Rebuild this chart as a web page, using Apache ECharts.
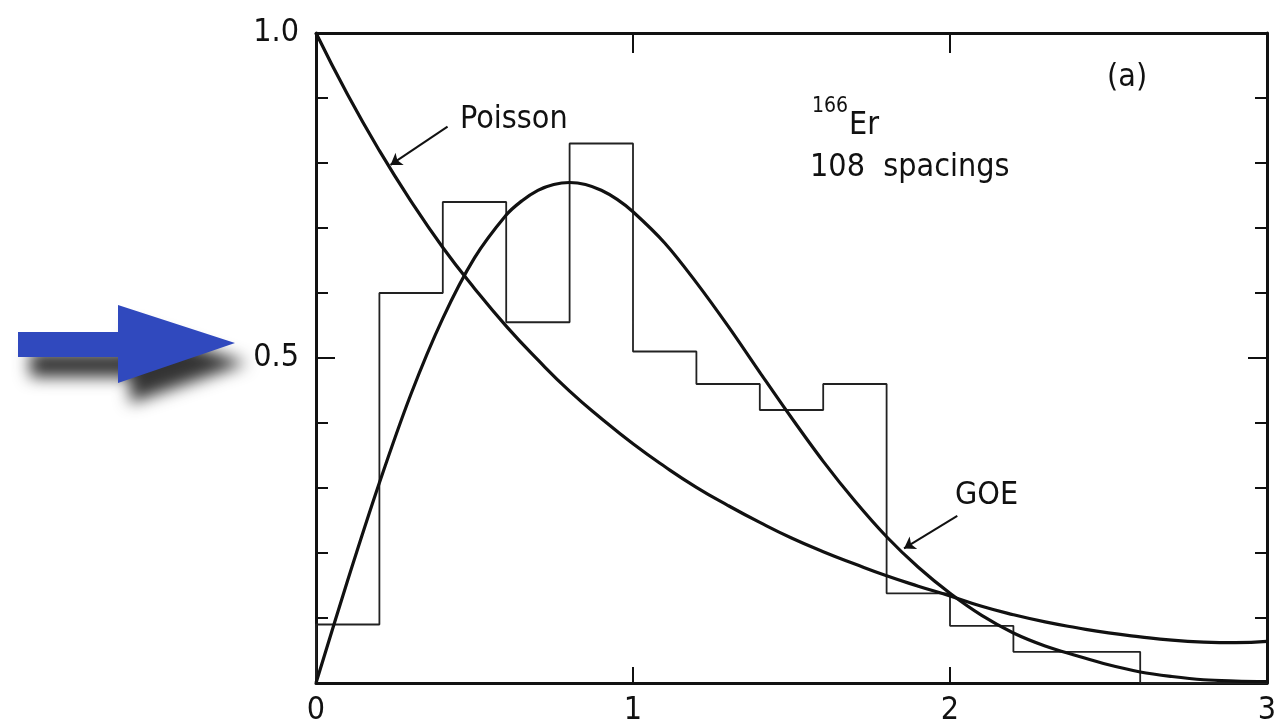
<!DOCTYPE html>
<html>
<head>
<meta charset="utf-8">
<script src="https://cdn.jsdelivr.net/npm/echarts@6/dist/echarts.min.js"></script>
<style>
  html, body { margin: 0; padding: 0; background: #fff; }
  #chart { width: 1284px; height: 726px; }
</style>
</head>
<body>
<div id="chart"></div>
<script>
// histogram: left bin edges (width 0.2) and densities
const binEdges = [0, 0.2, 0.4, 0.6, 0.8, 1.0, 1.2, 1.4, 1.6, 1.8, 2.0, 2.2, 2.4, 2.6, 2.8];
const binHeights = [0.09, 0.60, 0.74, 0.555, 0.83, 0.51, 0.46, 0.42, 0.46, 0.138, 0.088, 0.048, 0.048, 0, 0];

// Poisson curve, read point by point
const poissonS = [0, 0.1, 0.2, 0.3, 0.4, 0.5, 0.6, 0.7, 0.8, 0.9, 1.0, 1.1, 1.2, 1.3, 1.4, 1.5, 1.6, 1.7, 1.8, 1.9, 2.0, 2.1, 2.2, 2.3, 2.4, 2.5, 2.6, 2.7, 2.8, 2.9, 3.0];
const poissonP = [1.0, 0.905, 0.819, 0.741, 0.67, 0.607, 0.549, 0.497, 0.449, 0.407, 0.368, 0.333, 0.301, 0.273, 0.247, 0.223, 0.202, 0.183, 0.165, 0.149, 0.134, 0.118, 0.105, 0.094, 0.085, 0.077, 0.071, 0.066, 0.063, 0.062, 0.064];

// GOE curve, read point by point (denser around the peak)
const goeS = [0, 0.1, 0.2, 0.3, 0.4, 0.5, 0.6, 0.65, 0.7, 0.75, 0.8, 0.85, 0.9, 0.95, 1.0, 1.1, 1.2, 1.3, 1.4, 1.5, 1.6, 1.7, 1.8, 1.9, 2.0, 2.1, 2.2, 2.3, 2.4, 2.5, 2.6, 2.7, 2.8, 2.9, 3.0];
const goeP = [0, 0.158, 0.308, 0.445, 0.561, 0.654, 0.72, 0.742, 0.758, 0.767, 0.77, 0.767, 0.758, 0.744, 0.725, 0.677, 0.616, 0.549, 0.478, 0.408, 0.341, 0.28, 0.225, 0.178, 0.138, 0.104, 0.077, 0.057, 0.042, 0.028, 0.017, 0.01, 0.005, 0.003, 0.002];

const xTicks = ["0", "1", "2", "3"];

const FONT = "DejaVu Sans Condensed";
const INK = "#111";

const histData = [[0, 0]];
binEdges.forEach((e, i) => histData.push([e, binHeights[i]]));
histData.push([3, 0]);

const poissonData = poissonS.map((s, i) => [s, poissonP[i]]);
const goeData = goeS.map((s, i) => [s, goeP[i]]);

const chart = echarts.init(document.getElementById("chart"));

const yAxisBase = {
  type: "value",
  min: 0,
  max: 1,
  interval: 0.5,
  splitLine: { show: false },
  axisLine: { show: true, onZero: false, lineStyle: { color: INK, width: 3 } },
  axisTick: { show: true, inside: true, length: 19, lineStyle: { color: INK, width: 2 } },
  minorTick: { show: true, splitNumber: 5, length: 12, lineStyle: { color: INK, width: 2 } },
};

const option = {
  backgroundColor: "#fff",
  animation: false,
  grid: { left: 316, right: 17, top: 33, bottom: 43, outerBoundsMode: "none" },
  xAxis: [
    {
      type: "value",
      position: "bottom",
      min: 0,
      max: 3,
      interval: 1,
      splitLine: { show: false },
      axisLine: { onZero: false, lineStyle: { color: INK, width: 3 } },
      axisTick: { inside: true, length: 16, lineStyle: { color: INK, width: 2 } },
      axisLabel: {
        margin: 12,
        color: INK,
        fontSize: 32,
        fontFamily: FONT,
        formatter: (v) => xTicks[Math.round(v)],
      },
    },
    {
      type: "value",
      position: "top",
      min: 0,
      max: 3,
      interval: 1,
      splitLine: { show: false },
      axisLine: { show: true, onZero: false, lineStyle: { color: INK, width: 3 } },
      axisTick: { inside: true, length: 20, lineStyle: { color: INK, width: 2 } },
      axisLabel: { show: false },
    },
  ],
  yAxis: [
    Object.assign({}, yAxisBase, {
      position: "left",
      axisLabel: {
        margin: 17,
        color: INK,
        fontSize: 32,
        fontFamily: FONT,
        formatter: (v) => (v === 0 ? "" : v.toFixed(1)),
      },
    }),
    Object.assign({}, yAxisBase, {
      position: "right",
      axisLabel: { show: false },
    }),
  ],
  series: [
    {
      name: "histogram",
      type: "line",
      step: "end",
      data: histData,
      symbol: "none",
      lineStyle: { color: "#222", width: 1.8 },
      z: 2,
    },
    {
      name: "Poisson",
      type: "line",
      smooth: true,
      data: poissonData,
      symbol: "none",
      lineStyle: { color: INK, width: 3.2 },
      z: 3,
      markLine: {
        silent: true,
        symbol: ["none", "arrow"],
        symbolSize: 11,
        label: { show: false },
        lineStyle: { color: INK, width: 2, type: "solid" },
        data: [[{ coord: [0.415, 0.856] }, { coord: [0.235, 0.797] }]],
      },
    },
    {
      name: "GOE",
      type: "line",
      smooth: 0.35,
      data: goeData,
      symbol: "none",
      lineStyle: { color: INK, width: 3.2 },
      z: 3,
      markLine: {
        silent: true,
        symbol: ["none", "arrow"],
        symbolSize: 11,
        label: { show: false },
        lineStyle: { color: INK, width: 2, type: "solid" },
        data: [[{ coord: [2.023, 0.257] }, { coord: [1.855, 0.207] }]],
      },
    },
  ],
  graphic: [
    {
      type: "text",
      left: 460, top: 104,
      style: { text: "Poisson", fill: INK, font: `32px "${FONT}"` },
    },
    {
      type: "text",
      left: 1107, top: 62,
      style: { text: "(a)", fill: INK, font: `32px "${FONT}"` },
    },
    {
      type: "text",
      left: 812, top: 96,
      style: { text: "166", fill: INK, font: `21px "${FONT}"` },
    },
    {
      type: "text",
      left: 849, top: 110,
      style: { text: "Er", fill: INK, font: `32px "${FONT}"` },
    },
    {
      type: "text",
      left: 810, top: 152,
      style: { text: "108  spacings", fill: INK, font: `32px "${FONT}"` },
    },
    {
      type: "text",
      left: 955, top: 480,
      style: { text: "GOE", fill: INK, font: `32px "${FONT}"` },
    },
    {
      // blue pointer next to the 0.5 label
      type: "polygon",
      shape: {
        points: [[18, 332], [118, 332], [118, 305], [235, 343], [118, 383], [118, 357], [18, 357]],
      },
      style: {
        fill: "#3049BE",
        shadowBlur: 16,
        shadowOffsetX: 12,
        shadowOffsetY: 20,
        shadowColor: "rgba(0,0,0,0.8)",
      },
    },
  ],
};

chart.setOption(option);
window.addEventListener("resize", () => chart.resize());
</script>
</body>
</html>
